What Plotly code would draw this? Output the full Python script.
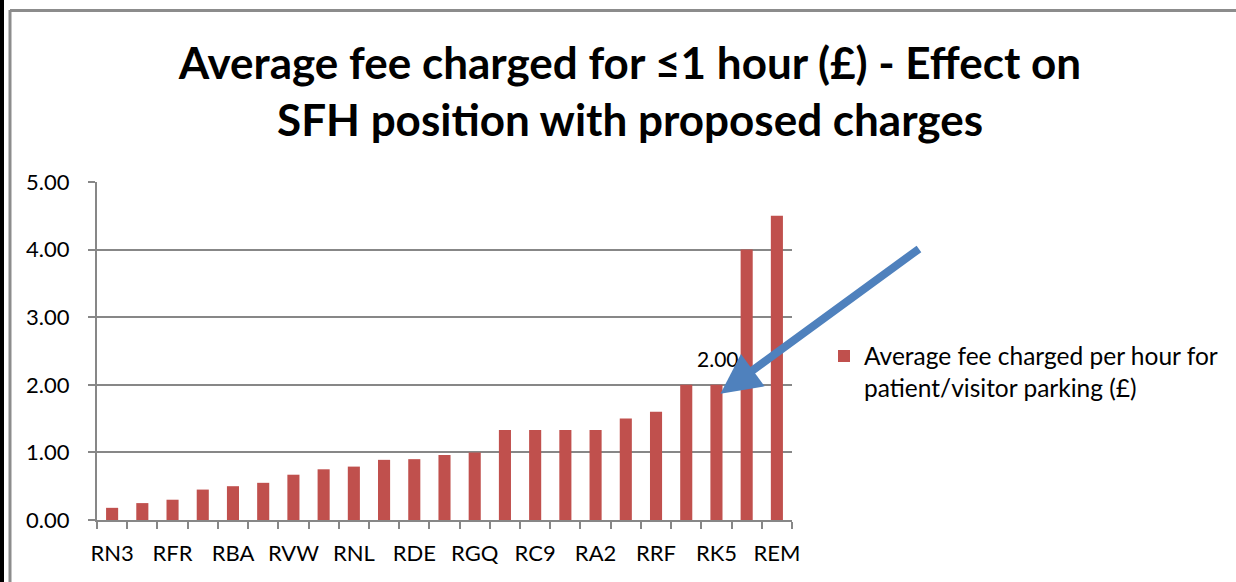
import plotly.graph_objects as go

# Trust codes (every second one labelled on the axis in the original)
categories = ["RN3", "RTF", "RFR", "RCB", "RBA", "RXP", "RVW", "RJL", "RNL", "RWD",
              "RDE", "RDD", "RGQ", "RWY", "RC9", "RBZ", "RA2", "RCX", "RRF", "RTG",
              "RK5", "RWF", "REM"]
fees = [0.18, 0.25, 0.30, 0.45, 0.50, 0.55, 0.67, 0.75, 0.79, 0.89,
        0.90, 0.96, 1.00, 1.33, 1.33, 1.33, 1.33, 1.50, 1.60, 2.00,
        2.00, 4.00, 4.50]
tick_labels = [c if i % 2 == 0 else "" for i, c in enumerate(categories)]
highlight = "RK5"
series_name = "Average fee charged per hour for<br>patient/visitor parking (£)"
title_text = "Average fee charged for ≤1 hour (£) - Effect on<br>SFH position with proposed charges"
y_ticks = [0, 1, 2, 3, 4, 5]

BAR = "#C0504D"
GRID = "#878787"
FONT = "Lato"

W, H = 1236, 582
L, R, T, B = 97, 792, 182, 520


def px_x(p):
    return (p - L) / (R - L)


def px_y(p):
    return (B - p) / (B - T)


hi_idx = categories.index(highlight)
hi_val = fees[hi_idx]

fig = go.Figure()
fig.add_trace(go.Bar(
    x=categories, y=fees, name=series_name,
    marker=dict(color=BAR, line=dict(width=0)),
    width=0.4,
    showlegend=True,
))

fig.update_layout(
    width=W, height=H,
    margin=dict(l=L, r=W - R, t=T, b=H - B, autoexpand=False),
    paper_bgcolor="white", plot_bgcolor="white",
    font=dict(family=FONT, size=22, color="#000000"),
    title=dict(text=title_text, x=630 / W, xanchor="center", xref="container",
               y=1 - 79 / H, yanchor="middle", yref="container",
               font=dict(family=FONT, size=44, color="#000000", weight="bold")),
    showlegend=True,
    legend=dict(x=px_x(824), xanchor="left", y=px_y(372), yanchor="middle",
                font=dict(family=FONT, size=24.5, color="#000000"),
                bgcolor="rgba(0,0,0,0)", valign="top", itemwidth=30),
)

fig.update_xaxes(
    type="category", categoryorder="array", categoryarray=categories,
    tickmode="array", tickvals=categories, ticktext=tick_labels, tickangle=0,
    tickson="boundaries", ticks="outside", ticklen=7, tickcolor=GRID, tickwidth=2,
    showline=True, linecolor=GRID, linewidth=2,
    showgrid=False, zeroline=False, automargin=False,
    tickfont=dict(family=FONT, size=22, color="#000000"),
    ticklabelstandoff=13,
    range=[-0.5, len(categories) - 0.5],
)
fig.update_yaxes(
    range=[0, 5], tickmode="array", tickvals=y_ticks, tickformat=".2f",
    ticks="outside", ticklen=7, tickcolor=GRID, tickwidth=2,
    showline=True, linecolor=GRID, linewidth=2,
    showgrid=True, gridcolor=GRID, gridwidth=2, zeroline=False, automargin=False,
    tickfont=dict(family=FONT, size=22, color="#000000"),
    ticklabelstandoff=14,
)

# Data label on the SFH bar
fig.add_annotation(
    x=highlight, y=hi_val, xref="x", yref="y", text=f"{hi_val:.2f}",
    showarrow=False, yanchor="bottom", xshift=2, yshift=12,
    font=dict(family=FONT, size=21, color="#000000"),
)

# Arrow pointing at the SFH (RK5) bar
fig.add_annotation(
    x=highlight, y=hi_val, xref="x", yref="y",
    xshift=4, yshift=-9,
    ax=200, ay=-146, axref="pixel", ayref="pixel",
    text="", showarrow=True, arrowhead=2, arrowsize=1.0, arrowwidth=8,
    arrowcolor="#4F81BD", standoff=0,
)

# Chart frame
fig.add_shape(type="line", xref="paper", yref="paper",
              x0=px_x(10), x1=px_x(1240), y0=px_y(10.5), y1=px_y(10.5),
              line=dict(color="#8C8C8C", width=3))
fig.add_shape(type="line", xref="paper", yref="paper",
              x0=px_x(10), x1=px_x(10), y0=px_y(10), y1=px_y(590),
              line=dict(color="#8C8C8C", width=3))
fig.add_shape(type="line", xref="paper", yref="paper",
              x0=px_x(2), x1=px_x(2), y0=px_y(-5), y1=px_y(590),
              line=dict(color="#000000", width=4))

fig.write_html(
    "out.html",
    config={"displayModeBar": False},
    post_script="document.body.style.margin='0';document.body.style.overflow='hidden';",
)
